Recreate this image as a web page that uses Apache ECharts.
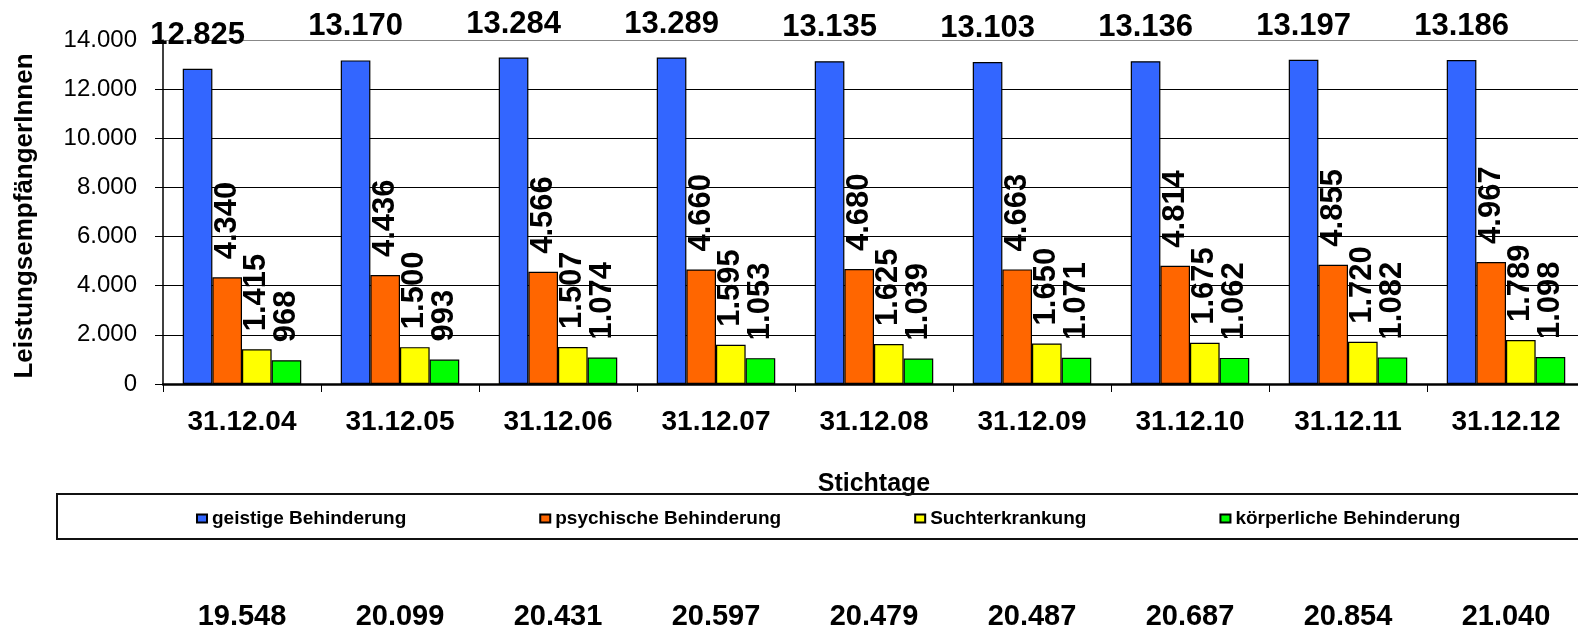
<!DOCTYPE html>
<html>
<head>
<meta charset="utf-8">
<script src="https://cdn.jsdelivr.net/npm/echarts@6/dist/echarts.min.js"></script>
<style>
html,body{margin:0;padding:0;background:#fff;}
#chart{width:1578px;height:631px;}
</style>
</head>
<body>
<div id="chart"></div>
<script>
const categories = ['31.12.04','31.12.05','31.12.06','31.12.07','31.12.08','31.12.09','31.12.10','31.12.11','31.12.12'];
const geistige   = [12825, 13170, 13284, 13289, 13135, 13103, 13136, 13197, 13186];
const psychische = [4340, 4436, 4566, 4660, 4680, 4663, 4814, 4855, 4967];
const sucht      = [1415, 1500, 1507, 1595, 1625, 1650, 1675, 1720, 1789];
const koerper    = [968, 993, 1074, 1053, 1039, 1071, 1062, 1082, 1098];
const totals     = ['19.548','20.099','20.431','20.597','20.479','20.487','20.687','20.854','21.040'];
const seriesNames = ['geistige Behinderung','psychische Behinderung','Suchterkrankung','körperliche Behinderung'];
const seriesColors = ['#3366FF','#FF6600','#FFFF00','#00FF00'];

const FONT = "'Liberation Sans', Arial, Helvetica, sans-serif";
function fmt(n){ return String(n).replace(/\B(?=(\d{3})+(?!\d))/g, '.'); }

const chart = echarts.init(document.getElementById('chart'), null, {renderer:'canvas'});

const topLabel = {
  show: true, position: 'top', distance: 18,
  formatter: p => fmt(p.value),
  fontFamily: FONT, fontWeight: 'bold', fontSize: 31, color: '#000'
};
const rotLabel = {
  show: true, position: 'top', distance: 18, rotate: 90,
  align: 'left', verticalAlign: 'middle',
  formatter: p => fmt(p.value),
  fontFamily: FONT, fontWeight: 'bold', fontSize: 31, color: '#000'
};

const dataSets = [geistige, psychische, sucht, koerper];
const series = dataSets.map((d, i) => ({
  name: seriesNames[i],
  type: 'bar',
  data: d,
  barGap: '0%',
  barCategoryGap: '25%',
  itemStyle: { color: seriesColors[i], borderColor: '#000', borderWidth: 1.2 },
  label: i === 0 ? topLabel : rotLabel,
  animation: false
}));

const option = {
  animation: false,
  backgroundColor: '#fff',
  textStyle: { fontFamily: FONT },
  grid: { left: 163, top: 40, width: 1422, height: 344, outerBoundsMode: 'none', containLabel: false },
  legend: {
    data: seriesNames,
    left: 57, top: 494,
    width: 1700,
    padding: [15, 300, 11, 139],
    itemGap: 133,
    itemWidth: 10, itemHeight: 8,
    icon: 'rect',
    borderColor: '#111', borderWidth: 2,
    textStyle: { fontFamily: FONT, fontWeight: 'bold', fontSize: 19, color: '#000' },
    selectedMode: false
  },
  xAxis: [
    {
      type: 'category', data: categories, gridIndex: 0,
      name: 'Stichtage', nameLocation: 'middle', nameGap: 88,
      nameTextStyle: { fontFamily: FONT, fontWeight: 'bold', fontSize: 25, color: '#000' },
      axisLine: { show: true, lineStyle: { color: '#000', width: 2.5 } },
      axisTick: { show: true, length: 8, lineStyle: { color: '#000', width: 1 } },
      axisLabel: { margin: 24, fontFamily: FONT, fontWeight: 'bold', fontSize: 28, color: '#000' }
    },
    {
      type: 'category', data: totals, gridIndex: 0, position: 'bottom',
      axisLine: { show: false }, axisTick: { show: false },
      axisLabel: { margin: 218, fontFamily: FONT, fontWeight: 'bold', fontSize: 29, color: '#000' }
    }
  ],
  yAxis: {
    type: 'value', min: 0, max: 14000, interval: 2000,
    name: 'LeistungsempfängerInnen', nameLocation: 'middle', nameRotate: 90, nameGap: 125,
    nameTextStyle: { fontFamily: FONT, fontWeight: 'bold', fontSize: 26, color: '#000', padding: [0, 8, 0, 0] },
    axisLine: { show: true, lineStyle: { color: '#000', width: 1.5 } },
    axisTick: { show: true, length: 8, lineStyle: { color: '#000' } },
    axisLabel: { margin: 26, fontFamily: FONT, fontSize: 24, color: '#000', formatter: v => fmt(v) },
    splitLine: { show: true, lineStyle: { color: ['#000','#000','#000','#000','#000','#000','#000','#888'], width: 1.2 } }
  },
  series: series
};
chart.setOption(option);
</script>
</body>
</html>
